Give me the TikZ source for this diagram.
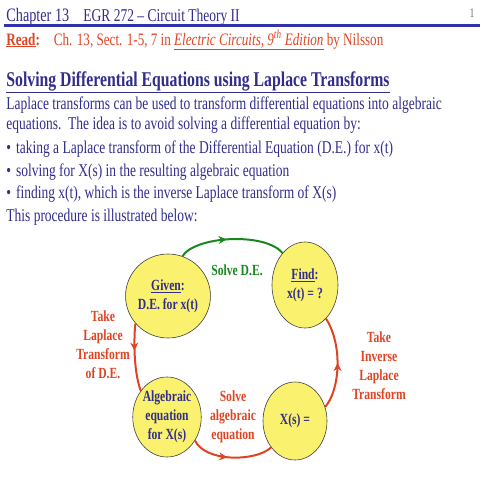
\documentclass[tikz,border=0pt]{standalone}
\usepackage{fontspec}
\setmainfont{Liberation Serif}[FakeStretch=0.75]
\usetikzlibrary{shapes.geometric,decorations.markings,arrows.meta}

\definecolor{navyT}{RGB}{48,45,140}
\definecolor{redT}{RGB}{222,68,35}
\definecolor{greenT}{RGB}{25,135,30}
\definecolor{yellowF}{RGB}{250,242,110}
\definecolor{ruleB}{RGB}{50,50,170}

\newcommand{\smallbul}{\textbullet\hspace{5pt}}

\tikzset{every picture/.style={line width=0.75pt},
  bubble/.style={ellipse, draw=black!75, line width=0.6pt, fill=yellowF, inner sep=0pt,
    align=center, text=navyT, font=\fontsize{15.5}{19}\selectfont\bfseries},
  steplbl/.style={align=center, inner sep=0pt, font=\fontsize{15.5}{19}\selectfont\bfseries},
  bodytxt/.style={anchor=base west, inner sep=0pt, text=navyT, font=\fontsize{18}{20}\selectfont},
  flowarrow/.style={line width=2pt, postaction={decorate},
    decoration={markings, mark=at position #1 with {\arrow{Stealth[length=8pt,width=8pt]}}}},
  flowarrow/.default=0.5,
}

\begin{document}
\begin{tikzpicture}[x=1pt,y=1pt,yscale=-1,xscale=1]
  \useasboundingbox (0,0) rectangle (480,480);
  % header
  \node[bodytxt, font=\fontsize{19}{20}\selectfont] (chap) at (6,21) {Chapter 13};
  \node[bodytxt, font=\fontsize{18}{20}\selectfont] (course) at (83,21) {EGR 272 -- Circuit Theory II};
  \node[anchor=base, inner sep=0pt, text=black!55, font=\fontsize{13}{14}\selectfont] (pagenum) at (472,17) {1};
  \draw [ruleB, line width=2.2pt] (4,25.5) -- (480,25.5) ;
  % reading line
  \node[bodytxt, text=redT, font=\fontsize{17.5}{18}\selectfont] (readlbl) at (6,45) {\textbf{\underline{Read}:}\hspace{14pt}Ch. 13, Sect. 1-5, 7 in \underline{\itshape Electric Circuits, 9\textsuperscript{th} Edition} by Nilsson};
  % title
  \node[bodytxt, font=\fontsize{21}{24}\selectfont\bfseries] (title) at (6,86) {\underline{Solving Differential Equations using Laplace Transforms}};
  % body text
  \node[bodytxt] (par1) at (6,109) {Laplace transforms can be used to transform differential equations into algebraic};
  \node[bodytxt] (par2) at (6,129) {equations.\ \ The idea is to avoid solving a differential equation by:};
  \node[bodytxt] (item1) at (6,153) {\smallbul taking a Laplace transform of the Differential Equation (D.E.) for x(t)};
  \node[bodytxt] (item2) at (6,176) {\smallbul solving for X(s) in the resulting algebraic equation};
  \node[bodytxt] (item3) at (6,198) {\smallbul finding x(t), which is the inverse Laplace transform of X(s)};
  \node[bodytxt] (par3) at (6,221) {This procedure is illustrated below:};

  % ellipses
  \node[bubble, minimum width=68, minimum height=84] (given) at (168,296) {\underline{Given}:\\D.E. for x(t)};
  \node[bubble, minimum width=66, minimum height=86] (find) at (305,285) {\underline{Find}:\\x(t) = ?};
  \node[bubble, minimum width=60, minimum height=80] (alg) at (167,417) {Algebraic\\equation\\for X(s)};
  \node[bubble, minimum width=64, minimum height=78] (xs) at (295,421) {X(s) =};

  % step labels
  \node[steplbl, text=greenT] (solvede) at (237,270) {Solve D.E.};
  \node[steplbl, text=redT] (takelt) at (103,345) {Take\\Laplace\\Transform\\of D.E.};
  \node[steplbl, text=redT] (solvealg) at (233,417) {Solve\\algebraic\\equation};
  \node[steplbl, text=redT] (takeilt) at (379,366) {Take\\Inverse\\Laplace\\Transform};

  % connectors
  \draw [greenT, flowarrow=0.45] (given.70) .. controls (195,236) and (265,232) .. (find.125) ;
  \draw [redT, flowarrow=0.4] (given.220) .. controls (134,335) and (133,370) .. (alg.135) ;
  \draw [redT, flowarrow=0.45] (alg.-40) .. controls (205,462) and (255,462) .. (xs.228) ;
  \draw [redT, flowarrow=0.5] (xs.25) .. controls (340,390) and (343,345) .. (find.-58) ;
\end{tikzpicture}
\end{document}
